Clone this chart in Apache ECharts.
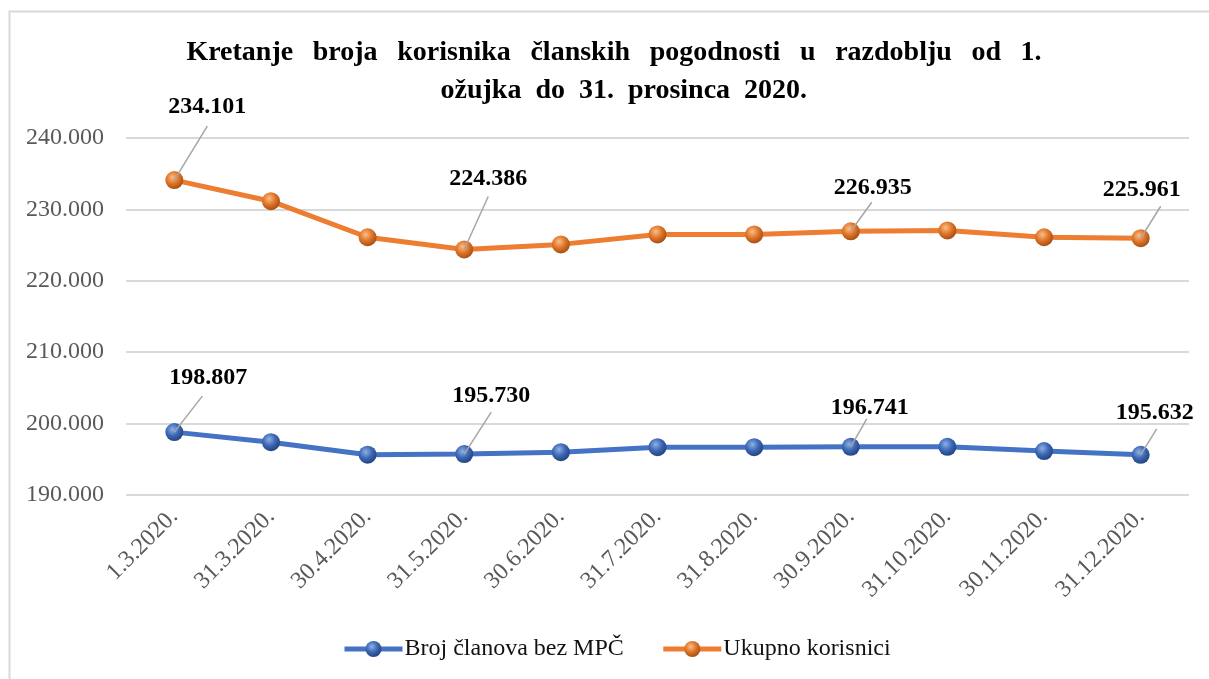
<!DOCTYPE html>
<html>
<head>
<meta charset="utf-8">
<script src="https://cdn.jsdelivr.net/npm/echarts@6/dist/echarts.min.js"></script>
<style>
html,body{margin:0;padding:0;background:#fff;}
#chart{width:1209px;height:679px;}
</style>
</head>
<body>
<div id="chart"></div>
<script>
const categories = ['1.3.2020.','31.3.2020.','30.4.2020.','31.5.2020.','30.6.2020.','31.7.2020.','31.8.2020.','30.9.2020.','31.10.2020.','30.11.2020.','31.12.2020.'];
const seriesNames = ['Broj članova bez MPČ','Ukupno korisnici'];
const clanovi = [198807, 197400, 195650, 195730, 196000, 196700, 196700, 196741, 196750, 196150, 195632];
const ukupno = [234101, 231150, 226100, 224386, 225100, 226500, 226500, 226935, 227050, 226100, 225961];
const labeledIdx = [0, 3, 7, 10];
const yMin = 190000, yMax = 240000, yStep = 10000;
const titleLine1 = ['Kretanje','broja','korisnika','članskih','pogodnosti','u','razdoblju','od','1.'];
const titleLine2 = ['ožujka','do','31.','prosinca','2020.'];

// label / leader offsets in pixels (layout only)
const offsUkupno = {0:[33,-73], 3:[24,-71], 7:[22,-43], 10:[1,-48]};
const offsClanovi = {0:[34,-54], 3:[27,-58], 7:[19,-39], 10:[14,-42]};
const leadUkupno = {0:[33,-54], 3:[24,-53], 7:[21,-29], 10:[20,-32]};
const leadClanovi = {0:[28,-36], 3:[27,-42], 7:[16,-28], 10:[16,-26]};

const fmt = v => {
  const s = Math.round(v).toString();
  return s.replace(/\B(?=(\d{3})+(?!\d))/g, '.');
};
const serif = '"Liberation Serif","Times New Roman",serif';

function sphere(light, mid, dark){
  return {type:'radial', x:0.4, y:0.35, r:0.7, colorStops:[
    {offset:0, color:light},{offset:0.5, color:mid},{offset:1, color:dark}]};
}

function mkData(arr){
  return arr.map((v,i)=>({value:v, label:{show: labeledIdx.includes(i)}}));
}

function leaderSeries(arr, leads){
  return {
    type:'custom', silent:true, z:5,
    data: labeledIdx.map(i => [i, arr[i]]),
    renderItem: function(params, api){
      const i = api.value(0);
      const pt = api.coord([i, api.value(1)]);
      const d = leads[i];
      return {type:'line', shape:{x1:pt[0], y1:pt[1], x2:pt[0]+d[0], y2:pt[1]+d[1]},
              style:{stroke:'#a6a6a6', lineWidth:1.5}};
    }
  };
}

const chart = echarts.init(document.getElementById('chart'));
chart.setOption({
  backgroundColor:'#fff',
  animation:false,
  graphic:[{type:'rect', shape:{x:9.5,y:11.5,width:1400,height:900}, style:{fill:'none', stroke:'#d9d9d9', lineWidth:2}}],
  title:{
    text: titleLine1.join('  \u2009') + '\n  \u2009' + titleLine2.join('  '),
    left:609, top:29, textAlign:'center',
    textStyle:{fontFamily:serif, fontWeight:'bold', fontSize:28, color:'#000', lineHeight:38}
  },
  legend:{
    bottom:13, left:337,
    itemWidth:58, itemHeight:20, itemGap:37,
    lineStyle:{width:5},
    textStyle:{fontFamily:serif, fontSize:24, color:'#111', padding:[0,0,0,-3]},
    data:seriesNames
  },
  grid:{left:126, right:20, top:138, bottom:184},
  xAxis:{
    type:'category', data:categories, boundaryGap:true,
    axisLine:{show:false}, axisTick:{show:false},
    axisLabel:{rotate:45, margin:18, fontFamily:serif, fontSize:24, color:'#595959', interval:0}
  },
  yAxis:{
    type:'value', min:yMin, max:yMax, interval:yStep,
    axisLine:{show:false}, axisTick:{show:false},
    splitLine:{lineStyle:{color:'#d9d9d9', width:2}},
    axisLabel:{fontFamily:serif, fontSize:24, color:'#595959', margin:22, formatter:fmt}
  },
  series:[
    {
      name:seriesNames[0], type:'line', data:mkData(clanovi),
      symbol:'circle', symbolSize:18,
      lineStyle:{color:'#4472c4', width:5},
      itemStyle:{color:sphere('#8fb0e6','#3d68b5','#1f3f78'), borderWidth:0},
      label:{position:'inside', formatter:p=>fmt(p.value), fontFamily:serif, fontWeight:'bold', fontSize:24, color:'#000'},
      labelLayout:function(p){const o=offsClanovi[p.dataIndex]; return o?{dx:o[0],dy:o[1]}:{};},
      z:3
    },
    {
      name:seriesNames[1], type:'line', data:mkData(ukupno),
      symbol:'circle', symbolSize:18,
      lineStyle:{color:'#ed7d31', width:5},
      itemStyle:{color:sphere('#f9be8a','#e07528','#9c4a12'), borderWidth:0},
      label:{position:'inside', formatter:p=>fmt(p.value), fontFamily:serif, fontWeight:'bold', fontSize:24, color:'#000'},
      labelLayout:function(p){const o=offsUkupno[p.dataIndex]; return o?{dx:o[0],dy:o[1]}:{};},
      z:3
    },
    leaderSeries(clanovi, leadClanovi),
    leaderSeries(ukupno, leadUkupno)
  ]
});
</script>
</body>
</html>
